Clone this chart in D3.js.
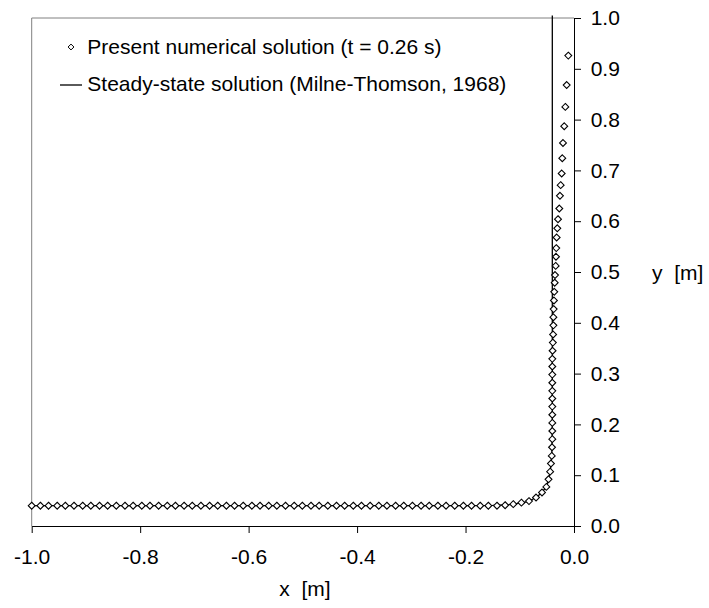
<!DOCTYPE html>
<html>
<head>
<meta charset="utf-8">
<script src="https://cdn.jsdelivr.net/npm/d3@7"></script>
<style>
  body { margin: 0; background: #fff; }
  text { font-family: "Liberation Sans", Arial, sans-serif; }
</style>
</head>
<body>
<div id="chart"></div>
<script>
// numerical solution (t = 0.26 s)
const numX = [-1.000, -0.984, -0.969, -0.953, -0.938, -0.922, -0.906, -0.891, -0.875, -0.860,
  -0.844, -0.828, -0.813, -0.797, -0.782, -0.766, -0.750, -0.735, -0.719, -0.704,
  -0.688, -0.672, -0.657, -0.641, -0.626, -0.610, -0.594, -0.579, -0.563, -0.548,
  -0.532, -0.516, -0.501, -0.485, -0.470, -0.454, -0.438, -0.423, -0.407, -0.392,
  -0.376, -0.360, -0.345, -0.329, -0.314, -0.298, -0.282, -0.267, -0.251, -0.236,
  -0.220, -0.204, -0.189, -0.173, -0.158, -0.142,
  -0.127, -0.112, -0.097, -0.083, -0.070, -0.059, -0.051, -0.047, -0.044, -0.0425,
  -0.041, -0.0405, -0.040, -0.040, -0.040, -0.040, -0.040, -0.040, -0.040, -0.040,
  -0.040, -0.040, -0.040, -0.0395, -0.039, -0.0385, -0.038, -0.038, -0.0375, -0.037,
  -0.0364, -0.0356, -0.035, -0.0338, -0.0332, -0.0327, -0.032, -0.0308, -0.0295, -0.0271,
  -0.0259, -0.0246, -0.0227, -0.0216, -0.0203, -0.018, -0.016, -0.0135, -0.0105];
const numY = [0.040, 0.040, 0.040, 0.040, 0.040, 0.040, 0.040, 0.040, 0.040, 0.040,
  0.040, 0.040, 0.040, 0.040, 0.040, 0.040, 0.040, 0.040, 0.040, 0.040,
  0.040, 0.040, 0.040, 0.040, 0.040, 0.040, 0.040, 0.040, 0.040, 0.040,
  0.040, 0.040, 0.040, 0.040, 0.040, 0.040, 0.040, 0.040, 0.040, 0.040,
  0.040, 0.040, 0.040, 0.040, 0.040, 0.040, 0.040, 0.040, 0.040, 0.040,
  0.040, 0.040, 0.040, 0.040, 0.040, 0.040,
  0.041, 0.043, 0.046, 0.049, 0.056, 0.066, 0.077, 0.092, 0.107, 0.123,
  0.138, 0.155, 0.171, 0.187, 0.203, 0.219, 0.235, 0.251, 0.266, 0.282,
  0.298, 0.314, 0.329, 0.345, 0.361, 0.377, 0.395, 0.411, 0.427, 0.444,
  0.461, 0.479, 0.494, 0.512, 0.530, 0.547, 0.568, 0.586, 0.604, 0.625,
  0.650, 0.671, 0.694, 0.724, 0.754, 0.787, 0.825, 0.868, 0.926];

// steady-state solution (Milne-Thomson, 1968)
const steadyX = [-1.0, -0.20, -0.15, -0.12, -0.10, -0.085, -0.07, -0.06, -0.052, -0.047,
  -0.044, -0.042, -0.041, -0.0405, -0.040, -0.040];
const steadyY = [0.040, 0.040, 0.0405, 0.042, 0.045, 0.048, 0.056, 0.065, 0.076, 0.090,
  0.107, 0.125, 0.140, 0.160, 0.200, 1.005];

const xTicks = [-1.0, -0.8, -0.6, -0.4, -0.2, 0.0];
const yTicks = [0.0, 0.1, 0.2, 0.3, 0.4, 0.5, 0.6, 0.7, 0.8, 0.9, 1.0];
const legendLabels = ["Present numerical solution (t = 0.26 s)",
  "Steady-state solution (Milne-Thomson, 1968)"];

const width = 709, height = 608;
const plotLeft = 31.7, plotRight = 574, plotTop = 18, plotBottom = 526;
const fontSize = 21;

const svg = d3.select("#chart").append("svg")
    .attr("width", width)
    .attr("height", height);

svg.append("rect").attr("width", width).attr("height", height).attr("fill", "#fff");

const x = d3.scaleLinear().domain([-1, 0]).range([plotLeft, plotRight]);
const y = d3.scaleLinear().domain([0, 1]).range([plotBottom, plotTop]);

// grey plot-area border (left and top)
svg.append("path")
    .attr("d", "M" + plotLeft + "," + plotBottom + "V" + plotTop + "H" + plotRight)
    .attr("fill", "none")
    .attr("stroke", "#808080")
    .attr("stroke-width", 1);

// x axis
const xAxis = svg.append("g")
    .attr("transform", "translate(0," + plotBottom + ")")
    .call(d3.axisBottom(x).tickValues(xTicks).tickSize(7).tickSizeOuter(0)
        .tickFormat(d => d.toFixed(1)));
xAxis.selectAll("text").attr("y", 38).attr("dy", null);

// y axis on the right
const yAxis = svg.append("g")
    .attr("transform", "translate(" + plotRight + ",0)")
    .call(d3.axisRight(y).tickValues(yTicks).tickSize(7).tickSizeOuter(0)
        .tickFormat(d => d.toFixed(1)));
yAxis.selectAll("text").attr("x", 16.7);

svg.selectAll(".tick text").attr("fill", "#000").style("font-size", fontSize + "px")
    .style("font-family", "'Liberation Sans', Arial, sans-serif");
svg.selectAll(".domain, .tick line").attr("stroke", "#000");

// axis titles
svg.append("text")
    .attr("x", 305).attr("y", 596)
    .attr("text-anchor", "middle")
    .attr("xml:space", "preserve")
    .style("white-space", "pre")
    .style("font-size", fontSize + "px")
    .text("x  [m]");
svg.append("text")
    .attr("x", 652).attr("y", 280)
    .attr("xml:space", "preserve")
    .style("white-space", "pre")
    .style("font-size", fontSize + "px")
    .text("y  [m]");

// steady-state line
const steady = steadyX.map((d, i) => [d, steadyY[i]]);
svg.append("path")
    .datum(steady)
    .attr("fill", "none")
    .attr("stroke", "#000")
    .attr("stroke-width", 1.3)
    .attr("d", d3.line().x(d => x(d[0])).y(d => y(d[1])));

// numerical points as small diamonds
const diamond = d3.symbol().type(d3.symbolDiamond2).size(30);
const pts = numX.map((d, i) => [d, numY[i]]);
svg.append("g").selectAll("path")
    .data(pts)
    .join("path")
    .attr("transform", d => "translate(" + x(d[0]) + "," + y(d[1]) + ")")
    .attr("d", diamond)
    .attr("fill", "#fff")
    .attr("stroke", "#000")
    .attr("stroke-width", 1.1);

// legend
const legend = svg.append("g");
legend.append("path")
    .attr("transform", "translate(71,47)")
    .attr("d", d3.symbol().type(d3.symbolDiamond2).size(22))
    .attr("fill", "#fff")
    .attr("stroke", "#000");
legend.append("line")
    .attr("x1", 60).attr("x2", 82).attr("y1", 85).attr("y2", 85)
    .attr("stroke", "#000").attr("stroke-width", 1.3);
legend.selectAll("text")
    .data(legendLabels)
    .join("text")
    .attr("x", 87.3)
    .attr("y", (d, i) => 54 + i * 37)
    .style("font-size", fontSize + "px")
    .text(d => d);
</script>
</body>
</html>
